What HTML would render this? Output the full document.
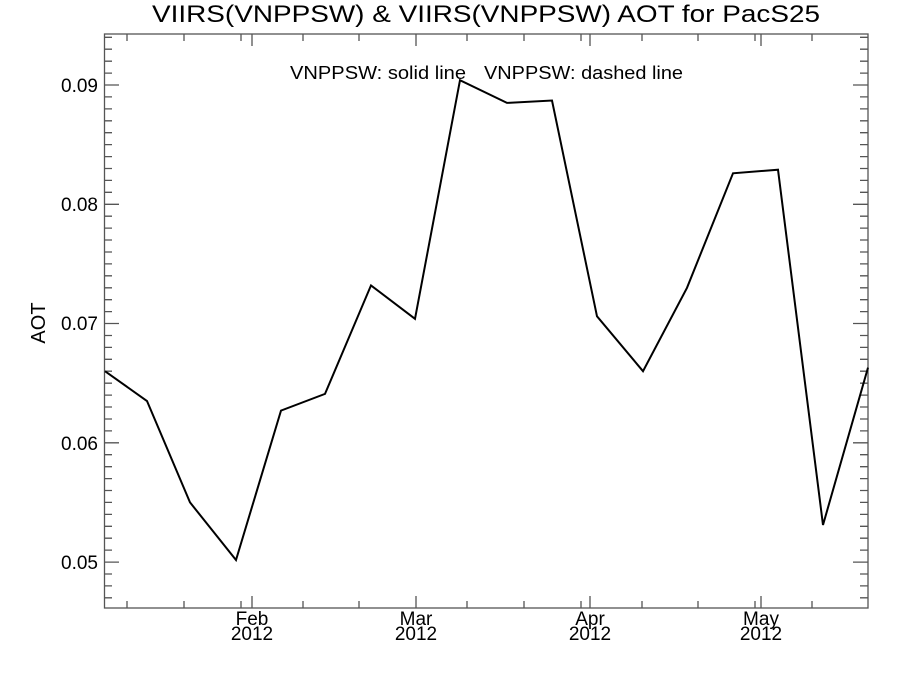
<!DOCTYPE html>
<html><head><meta charset="utf-8"><style>
body{margin:0;background:#fff;}
svg{display:block;font-family:"Liberation Sans",sans-serif;}
</style></head><body>
<svg width="900" height="675" viewBox="0 0 900 675" xmlns="http://www.w3.org/2000/svg">
<rect width="900" height="675" fill="#fff"/>
<text x="152" y="22" font-size="24" textLength="668" lengthAdjust="spacingAndGlyphs">VIIRS(VNPPSW) &amp; VIIRS(VNPPSW)  AOT for PacS25</text>
<g stroke="#555" stroke-width="1.3" fill="none">
<rect x="104.5" y="34" width="763.5" height="574"/>
<path d="M104 37.3h8M104 49.2h8M104 61.2h8M104 73.1h8M104 96.9h8M104 108.9h8M104 120.8h8M104 132.7h8M104 144.6h8M104 156.6h8M104 168.5h8M104 180.4h8M104 192.3h8M104 216.2h8M104 228.1h8M104 240h8M104 252h8M104 263.9h8M104 275.8h8M104 287.8h8M104 299.7h8M104 311.6h8M104 335.5h8M104 347.4h8M104 359.3h8M104 371.2h8M104 383.2h8M104 395.1h8M104 407h8M104 419h8M104 430.9h8M104 454.7h8M104 466.7h8M104 478.6h8M104 490.5h8M104 502.4h8M104 514.4h8M104 526.3h8M104 538.2h8M104 550.1h8M104 574h8M104 585.9h8M104 597.8h8"/>
<path d="M868 37.3h-8M868 49.2h-8M868 61.2h-8M868 73.1h-8M868 96.9h-8M868 108.9h-8M868 120.8h-8M868 132.7h-8M868 144.6h-8M868 156.6h-8M868 168.5h-8M868 180.4h-8M868 192.3h-8M868 216.2h-8M868 228.1h-8M868 240h-8M868 252h-8M868 263.9h-8M868 275.8h-8M868 287.8h-8M868 299.7h-8M868 311.6h-8M868 335.5h-8M868 347.4h-8M868 359.3h-8M868 371.2h-8M868 383.2h-8M868 395.1h-8M868 407h-8M868 419h-8M868 430.9h-8M868 454.7h-8M868 466.7h-8M868 478.6h-8M868 490.5h-8M868 502.4h-8M868 514.4h-8M868 526.3h-8M868 538.2h-8M868 550.1h-8M868 574h-8M868 585.9h-8M868 597.8h-8"/>
<path d="M104 85h15M104 204.3h15M104 323.5h15M104 442.8h15M104 562.1h15M868 85h-15M868 204.3h-15M868 323.5h-15M868 442.8h-15M868 562.1h-15"/>
<path d="M127 608v-7M184 608v-7M241 608v-7M303 608v-7M359 608v-7M467 608v-7M524 608v-7M581 608v-7M642 608v-7M698 608v-7M755 608v-7M812 608v-7"/>
<path d="M127 34v7M184 34v7M241 34v7M303 34v7M359 34v7M467 34v7M524 34v7M581 34v7M642 34v7M698 34v7M755 34v7M812 34v7"/>
<path d="M252 608v-12M416 608v-12M590 608v-12M761 608v-12M252 34v12M416 34v12M590 34v12M761 34v12"/>
</g>
<g font-size="19" text-anchor="end">
<text x="98" y="92">0.09</text>
<text x="98" y="211">0.08</text>
<text x="98" y="330">0.07</text>
<text x="98" y="450">0.06</text>
<text x="98" y="569">0.05</text>
</g>
<g font-size="19" text-anchor="middle">
<text x="252" y="625">Feb</text><text x="252" y="640">2012</text>
<text x="416" y="625">Mar</text><text x="416" y="640">2012</text>
<text x="590" y="625">Apr</text><text x="590" y="640">2012</text>
<text x="761" y="625">May</text><text x="761" y="640">2012</text>
</g>
<text transform="translate(45,323) rotate(-90)" font-size="20" text-anchor="middle">AOT</text>
<text x="290" y="79" font-size="18" textLength="176" lengthAdjust="spacingAndGlyphs">VNPPSW: solid line</text>
<text x="484" y="79" font-size="18" textLength="199" lengthAdjust="spacingAndGlyphs">VNPPSW: dashed line</text>
<polyline fill="none" stroke="#000" stroke-width="2" stroke-linejoin="miter" points="105,371.2 147,401 190,502.4 236,560 281,410.6 325,393.9 371,285.4 415,318.8 460,80.2 507,102.9 552,100.5 597,316.3 643,371.2 687,287.8 733,173.3 778,169.7 823,525 868,367.6"/>
</svg>
</body></html>
